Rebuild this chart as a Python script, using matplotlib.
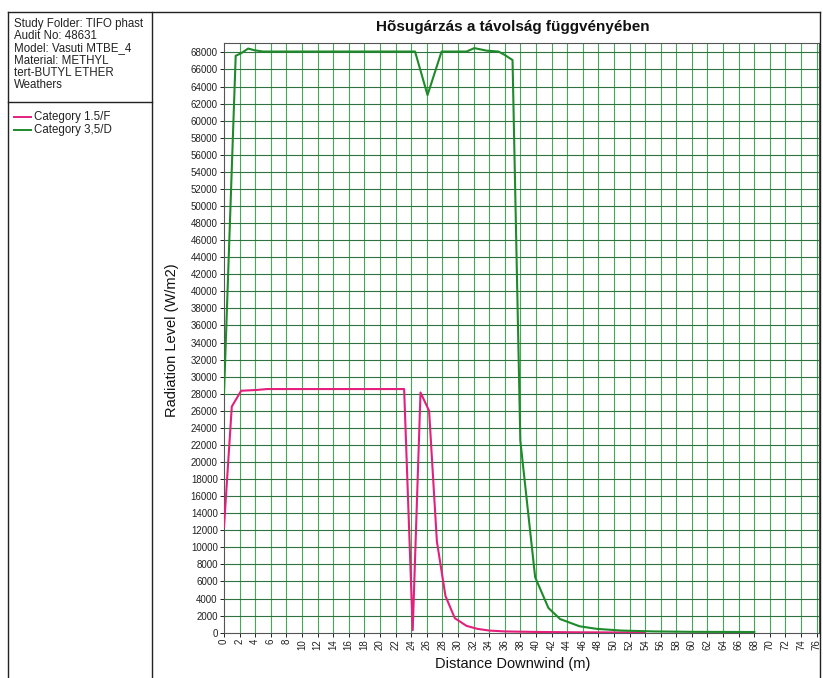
import matplotlib
matplotlib.use("Agg")
import matplotlib.pyplot as plt
from matplotlib.lines import Line2D

plt.rcParams['font.family'] = ['Liberation Sans', 'DejaVu Sans']

# radiation level vs. downwind distance, two weather categories
dist_f = [0, 1, 2.2, 4.3, 5.5, 23.1, 24.0, 24.2, 25.2, 26.3, 27.3, 28.4,
          29.6, 31.1, 32.5, 34, 36, 40, 45, 50, 54]
rad_f = [12400, 26500, 28350, 28450, 28550, 28550, 5400, 300, 28150, 26000,
         10700, 4300, 1700, 800, 450, 250, 150, 90, 50, 30, 20]

dist_d = [0, 1.5, 2.2, 3.1, 3.9, 5, 24.5, 26.1, 27.9, 31.1, 32.1, 33.7,
          35.2, 36.0, 37.0, 38.0, 39.9, 41.6, 43.1, 45.6, 47.8, 51, 55, 60, 68]
rad_d = [28000, 67600, 67900, 68450, 68250, 68100, 68100, 63000, 68100, 68100,
         68500, 68200, 68100, 67700, 67100, 22500, 6500, 2900, 1600, 750, 450,
         250, 150, 100, 80]

series_names = ['Category 1.5/F', 'Category 3,5/D']
series_colors = ['#e3207c', '#1f8a2a']

info_lines = ['Study Folder: TIFO phast', 'Audit No: 48631',
              'Model: Vasuti MTBE_4', 'Material: METHYL',
              'tert-BUTYL ETHER', 'Weathers']

W, H = 823, 678
fig = plt.figure(figsize=(W / 100, H / 100), dpi=100)


def fx(px):
    return px / W


def fy(py):
    return 1 - py / H


# frame lines around the info panel and chart
def frame(x0, y0, x1, y1, lw=1.0, col='#222222'):
    fig.add_artist(Line2D([fx(x0), fx(x1)], [fy(y0), fy(y1)],
                          color=col, lw=lw, transform=fig.transFigure))


frame(8, 12, 820, 12)
frame(8, 12, 8, 678)
frame(152, 12, 152, 678)
frame(820, 12, 820, 678)
frame(8, 102, 152, 102)

for i, t in enumerate(info_lines):
    fig.text(fx(14), fy(24 + i * 12.2), t, fontsize=8.3, va='center',
             ha='left', color='#222222')

for i, (name, col) in enumerate(zip(series_names, series_colors)):
    yy = fy(117 + i * 12.5)
    fig.add_artist(Line2D([fx(14), fx(31)], [yy, yy], color=col, lw=1.4,
                          transform=fig.transFigure))
    fig.text(fx(34), yy, name, fontsize=8.3, va='center', ha='left',
             color='#222222')

ax = fig.add_axes([fx(224), fy(632.7), fx(819) - fx(224), fy(43) - fy(632.7)])
ax.set_xlim(0, 76.3)
ax.set_ylim(0, 69100)

xt = list(range(0, 77, 2))
yt = list(range(0, 68001, 2000))
ax.set_xticks(xt)
ax.set_xticklabels([str(v) for v in xt], rotation=90, fontsize=7)
ax.set_yticks(yt)
ax.set_yticklabels([str(v) for v in yt], fontsize=7)
ax.tick_params(length=3, width=0.7, pad=1.5, colors='#222222')

for v in xt[1:]:
    ax.axvline(v, color='#42aa50', lw=0.8, zorder=1)
for v in yt[1:]:
    ax.axhline(v, color='#2f7440', lw=0.8, zorder=1)

for s in ax.spines.values():
    s.set_color('#555555')
    s.set_linewidth(0.8)

ax.plot(dist_f, rad_f, color=series_colors[0], lw=1.5, zorder=3)
ax.plot(dist_d, rad_d, color=series_colors[1], lw=1.5, zorder=3)

fig.text(fx(513), fy(27), 'Hõsugárzás a távolság függvényében',
         fontsize=11, fontweight='bold', ha='center', va='center',
         color='#111111')
fig.text(fx(172), fy(340), 'Radiation Level (W/m2)', rotation=90,
         fontsize=10.5, ha='center', va='center', color='#111111')
fig.text(fx(513), fy(664), 'Distance Downwind (m)', fontsize=10.5,
         ha='center', va='center', color='#111111')

fig.savefig('out.png', dpi=100)
